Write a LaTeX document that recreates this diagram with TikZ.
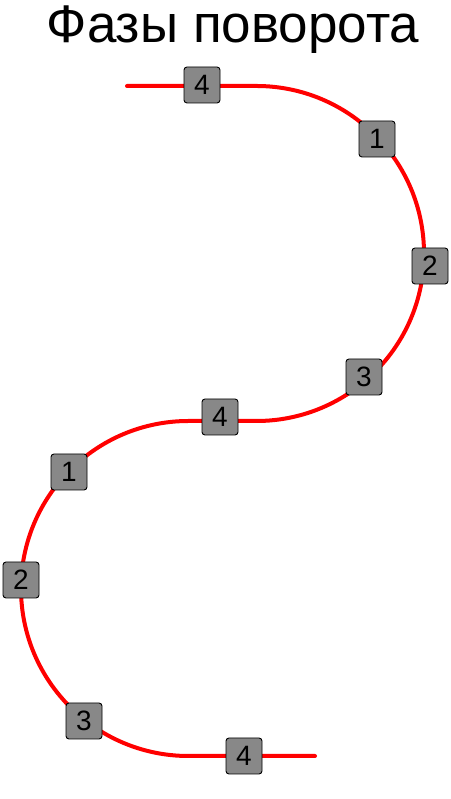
\documentclass[tikz,border=0pt]{standalone}
\usepackage{fontspec}
\setmainfont{Liberation Sans}
\definecolor{boxgray}{RGB}{136,136,136}
\begin{document}
\begin{tikzpicture}[x=1pt,y=1pt,
  phasebox/.style={draw=black, fill=boxgray, rounded corners=3pt, minimum size=36pt, inner sep=0pt, line width=0.9pt, font=\fontsize{28}{28}\selectfont},
  track/.style={draw=red, line width=4pt, line cap=round}]
\useasboundingbox (0,0) rectangle (450,799);
\node[anchor=base, font=\fontsize{53}{53}\selectfont, inner sep=0pt] (title) at (233,756) {Фазы поворота};
\coordinate (s) at (127,713);
\coordinate (e) at (315,43);
\draw[track] (s) -- (256.5,713) arc[start angle=90,end angle=-90,radius=167.5] -- (188.5,378) arc[start angle=90,end angle=270,radius=167.5] -- (e);
\node[phasebox] (p4a) at (202,714) {4};
\node[phasebox] (p1a) at (377,660) {1};
\node[phasebox] (p2a) at (430,533) {2};
\node[phasebox] (p3a) at (364,422) {3};
\node[phasebox] (p4b) at (220,382) {4};
\node[phasebox] (p1b) at (69,327) {1};
\node[phasebox] (p2b) at (21,219) {2};
\node[phasebox] (p3b) at (84,78) {3};
\node[phasebox] (p4c) at (244,43) {4};
\end{tikzpicture}
\end{document}
